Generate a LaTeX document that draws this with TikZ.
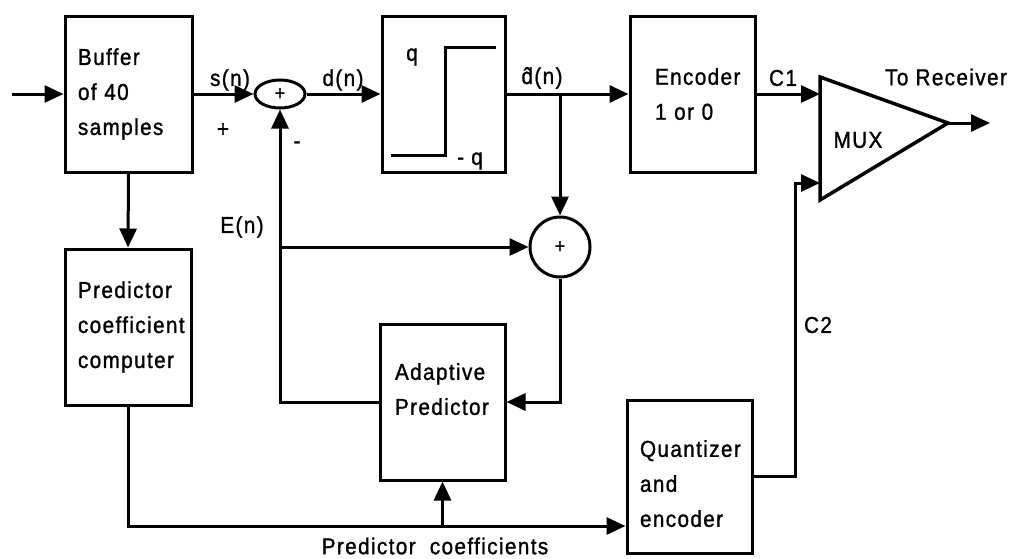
\documentclass[tikz,border=0pt]{standalone}
\usepackage{fontspec}
\setmainfont{Liberation Sans}[LetterSpace=6,FakeStretch=0.9,FakeBold=1.2]
\usetikzlibrary{arrows.meta,shapes.geometric}
\begin{document}
\begin{tikzpicture}[x=1pt,y=-1pt,
  lbl/.style={font=\fontsize{23}{35}\selectfont, inner sep=0pt},
  blk/.style={draw, line width=3pt, minimum width=125pt, minimum height=156pt,
    inner sep=0pt, align=left, font=\fontsize{23}{35}\selectfont},
  sumnode/.style={draw, line width=3pt, inner sep=0pt, font=\fontsize{20}{20}\selectfont},
  wire/.style={line width=3pt},
  arr/.style={wire, -{Triangle[length=19pt,width=17pt]}},
]
\useasboundingbox (0,0) rectangle (1016,558);

% blocks
\node[blk, minimum width=127pt, text width=101pt] (buf) at (128.5,94) {Buffer\\of 40\\samples};
\node[blk, minimum width=126pt, text width=100pt] (pcc) at (128,327) {Predictor\\coefficient\\computer};
\node[blk, minimum width=123pt] (quant) at (443.5,94) {};
\node[blk, text width=75pt] (enc) at (692.5,94) {Encoder\\1 or 0};
\node[blk, text width=95pt, text depth=61pt] (adapt) at (442.5,402) {Adaptive\\Predictor};
\node[blk, minimum height=153pt, text width=99pt, text depth=56pt] (qenc) at (689.5,476.5) {Quantizer\\and\\encoder};

% summing junctions
\node[sumnode, ellipse, minimum width=50pt, minimum height=28pt] (s1) at (280,94) {+};
\node[sumnode, circle, minimum size=60pt] (s2) at (560,247) {+};

% quantizer characteristic
\draw[wire] (391,155) -- (445,155) -- (445,47) -- (496,47);
\node[lbl] (qp) at (412,57) {q};
\node[lbl] (qm) at (470,161) {- q};

% MUX
\coordinate (mA) at (820,77);
\coordinate (mB) at (820,200);
\coordinate (mT) at (948,123);
\draw[line width=3.5pt, line join=miter] (mA) -- (mT) -- (mB) -- cycle;
\node[lbl] (muxl) at (858,140) {MUX};
\coordinate (c1in) at (820,94);
\coordinate (c2in) at (820,183);
\coordinate (c2turn) at (795,183);
\coordinate (out) at (990,123);

% helper coordinates
\coordinate (in) at (12,94);
\coordinate (br) at (560,94);
\coordinate (eb) at (280,247);
\coordinate (busy) at (0,526);

% connectors
\draw[arr] (in) -- (buf.west);
\draw[arr] (buf.east) -- (s1.west);
\draw[arr] (s1.east) -- (quant.west);
\draw[arr] (quant.east) -- (enc.west);
\draw[arr] (br) -- (s2.north);
\draw[arr] (enc.east) -- (c1in);
\draw[arr] (qenc.east) -| (c2turn) -- (c2in);
\draw[arr] (mT) -- (out);
\draw[arr] (buf.south) -- (pcc.north);
\draw[arr] (adapt.west) -| (s1.south);
\draw[arr] (eb) -- (s2.west);
\draw[arr] (s2.south) |- (adapt.east);
\draw[arr] (pcc.south) |- (qenc.west |- busy);
\coordinate (pb) at (adapt.south |- busy);
\draw[arr] (pb) -- (adapt.south);

% labels
\node[lbl] (lsn) at (230,80) {s(n)};
\node[lbl] (ldn) at (343,80) {d(n)};
\node[lbl] (ldh) at (542,78) {d\char"0302(n)};
\node[lbl] (lplus) at (223,130) {+};
\node[lbl] (lminus) at (297,145) {-};
\node[lbl] (len) at (242,227) {E(n)};
\node[lbl] (lc1) at (783,78) {C1};
\node[lbl] (lrx) at (946,77) {To Receiver};
\node[lbl] (lc2) at (818,325) {C2};
\node[lbl] (lpc) at (435,546) {Predictor\ \ coefficients};
\end{tikzpicture}
\end{document}
